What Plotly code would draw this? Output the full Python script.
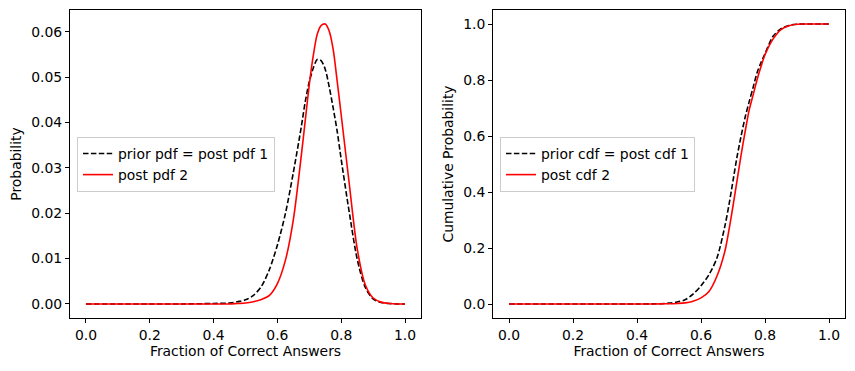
import plotly.graph_objects as go

# Shared x grid (fraction of correct answers)
x_vals = [0.0, 0.1, 0.2, 0.3, 0.4, 0.45, 0.475, 0.5, 0.525, 0.55, 0.575, 0.6, 0.625,
          0.65, 0.675, 0.6875, 0.7, 0.7125, 0.725, 0.7375, 0.75, 0.7625, 0.775, 0.7875,
          0.8, 0.825, 0.85, 0.875, 0.9, 0.925, 0.95, 0.975, 1.0]

prior_pdf = [0.0, 0.0, 0.0, 0.0, 0.0001, 0.0002, 0.0005, 0.0009, 0.0019, 0.0039, 0.0076,
             0.0130, 0.0199, 0.0290, 0.0391, 0.0447, 0.0490, 0.0520, 0.0539, 0.0536, 0.0517,
             0.0478, 0.0431, 0.0380, 0.0318, 0.0203, 0.0099, 0.0037, 0.0011, 0.0003, 0.0001,
             0.0, 0.0]

post2_pdf = [0.0, 0.0, 0.0, 0.0, 0.0, 0.0, 0.0001, 0.0002, 0.0005, 0.0010, 0.0019,
             0.0045, 0.0096, 0.0186, 0.0328, 0.0406, 0.0484, 0.0548, 0.0595, 0.0614, 0.0617,
             0.0601, 0.0560, 0.0490, 0.0416, 0.0266, 0.0122, 0.0043, 0.0013, 0.0004, 0.0001,
             0.0, 0.0]

prior_cdf = [0.0, 0.0, 0.0, 0.0, 0.0, 0.0005, 0.001, 0.003, 0.007, 0.015, 0.035,
             0.065, 0.105, 0.165, 0.280, 0.355, 0.440, 0.525, 0.598, 0.665, 0.720,
             0.772, 0.825, 0.862, 0.894, 0.956, 0.983, 0.995, 0.999, 1.0, 1.0, 1.0, 1.0]

post2_cdf = [0.0, 0.0, 0.0, 0.0, 0.0, 0.0, 0.0005, 0.001, 0.002, 0.004, 0.010,
             0.022, 0.045, 0.100, 0.190, 0.265, 0.350, 0.440, 0.530, 0.613, 0.690,
             0.745, 0.800, 0.848, 0.890, 0.946, 0.980, 0.994, 0.999, 1.0, 1.0, 1.0, 1.0]

x_ticks = [0.0, 0.2, 0.4, 0.6, 0.8, 1.0]
pdf_ticks = [0.0, 0.01, 0.02, 0.03, 0.04, 0.05, 0.06]
cdf_ticks = [0.0, 0.2, 0.4, 0.6, 0.8, 1.0]

FONT = "DejaVu Sans"
FS = 13.9
DASH = "5.5px,2.4px"
W, H = 847, 363  # page body has an 8px margin

fig = go.Figure()
fig.add_trace(go.Scatter(x=x_vals, y=prior_pdf, mode="lines", name="prior pdf = post pdf 1",
                         line=dict(color="black", width=1.6, dash=DASH, shape="spline", smoothing=0.8),
                         xaxis="x", yaxis="y", legend="legend"))
fig.add_trace(go.Scatter(x=x_vals, y=post2_pdf, mode="lines", name="post pdf 2",
                         line=dict(color="red", width=1.6, shape="spline", smoothing=0.8),
                         xaxis="x", yaxis="y", legend="legend"))
fig.add_trace(go.Scatter(x=x_vals, y=prior_cdf, mode="lines", name="prior cdf = post cdf 1",
                         line=dict(color="black", width=1.6, dash=DASH, shape="spline", smoothing=0.8),
                         xaxis="x2", yaxis="y2", legend="legend2"))
fig.add_trace(go.Scatter(x=x_vals, y=post2_cdf, mode="lines", name="post cdf 2",
                         line=dict(color="red", width=1.6, shape="spline", smoothing=0.8),
                         xaxis="x2", yaxis="y2", legend="legend2"))

axis_common = dict(showline=True, linecolor="black", linewidth=1, mirror=True,
                   ticks="outside", ticklen=4, tickwidth=1, tickcolor="black",
                   showgrid=False, zeroline=False, automargin=False,
                   tickfont=dict(family=FONT, size=FS, color="black"))

title_font = dict(family=FONT, size=FS, color="black")
ydom = [1 - 310/H, 1 - 2/H]

fig.update_layout(
    width=W, height=H,
    margin=dict(l=0, r=0, t=0, b=0, autoexpand=False),
    paper_bgcolor="white", plot_bgcolor="white",
    font=dict(family=FONT, size=FS, color="black"),
    xaxis=dict(domain=[62/W, 413/W], range=[-0.05, 1.05], tickvals=x_ticks,
               tickformat=".1f", anchor="y",
               title=dict(text="Fraction of Correct Answers", font=title_font, standoff=4),
               **axis_common),
    yaxis=dict(domain=ydom, range=[-0.0031, 0.0648], tickvals=pdf_ticks,
               tickformat=".2f", anchor="x",
               title=dict(text="Probability", font=title_font, standoff=6),
               **axis_common),
    xaxis2=dict(domain=[485/W, 837/W], range=[-0.05, 1.05], tickvals=x_ticks,
                tickformat=".1f", anchor="y2",
                title=dict(text="Fraction of Correct Answers", font=title_font, standoff=4),
                **axis_common),
    yaxis2=dict(domain=ydom, range=[-0.05, 1.05], tickvals=cdf_ticks,
                tickformat=".1f", anchor="x2",
                title=dict(text="Cumulative Probability", font=title_font, standoff=6),
                **axis_common),
    legend=dict(x=69/W, y=1-129/H, xanchor="left", yanchor="top",
                bgcolor="rgba(255,255,255,0.8)", bordercolor="#cccccc", borderwidth=1,
                font=dict(family=FONT, size=FS, color="black"), tracegroupgap=0),
    legend2=dict(x=492/W, y=1-129/H, xanchor="left", yanchor="top",
                 bgcolor="rgba(255,255,255,0.8)", bordercolor="#cccccc", borderwidth=1,
                 font=dict(family=FONT, size=FS, color="black"), tracegroupgap=0),
    showlegend=True,
)

fig.write_html("out.html")
